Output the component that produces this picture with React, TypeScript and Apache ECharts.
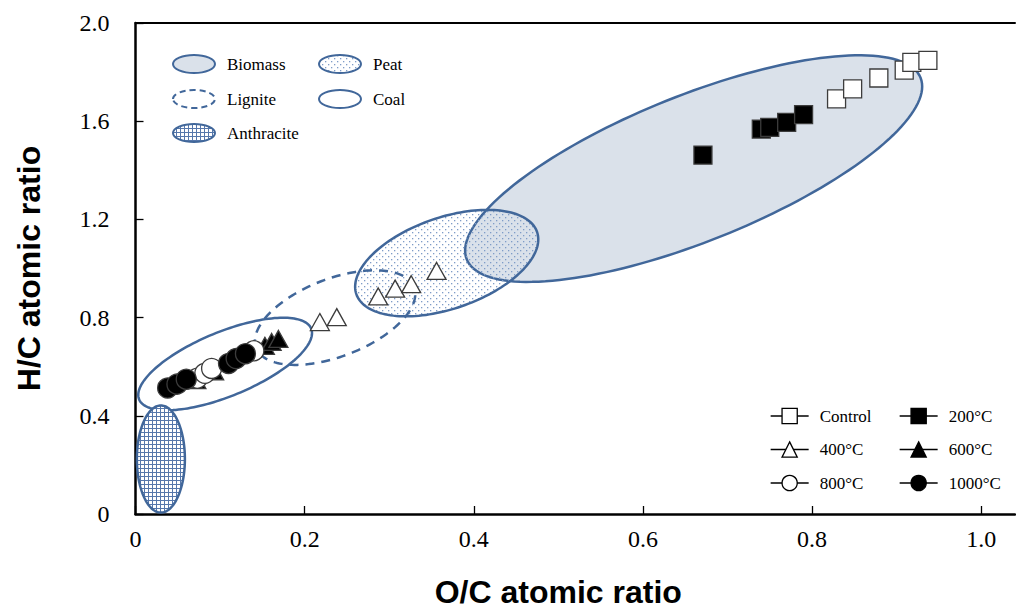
import React, { useEffect, useRef } from 'react';
import * as echarts from 'echarts';

// ---- axis ticks ----
const xTicks = [0, 0.2, 0.4, 0.6, 0.8, 1.0];
const yTicks = [0, 0.4, 0.8, 1.2, 1.6, 2.0];

// ---- series data (O/C, H/C atomic ratios) ----
const seriesNames = ['Control', '200°C', '400°C', '600°C', '800°C', '1000°C'];
const controlOC = [0.829, 0.848, 0.879, 0.909, 0.918, 0.937];
const controlHC = [1.691, 1.732, 1.776, 1.808, 1.84, 1.848];
const t200OC = [0.671, 0.74, 0.75, 0.77, 0.79];
const t200HC = [1.462, 1.568, 1.575, 1.595, 1.627];
const t400OC = [0.218, 0.238, 0.287, 0.307, 0.326, 0.356];
const t400HC = [0.782, 0.802, 0.886, 0.918, 0.936, 0.99];
const t600OC = [0.072, 0.093, 0.153, 0.161, 0.169];
const t600HC = [0.545, 0.581, 0.685, 0.701, 0.713];
const t800OC = [0.073, 0.082, 0.09, 0.14];
const t800HC = [0.553, 0.573, 0.593, 0.665];
const t1000OC = [0.038, 0.049, 0.06, 0.11, 0.119, 0.13];
const t1000HC = [0.513, 0.529, 0.549, 0.613, 0.633, 0.653];

// ---- fuel regions (ellipses, in ratio units) ----
const regionNames = ['Biomass', 'Peat', 'Lignite', 'Coal', 'Anthracite'];
const regionCenterOC = [0.66, 0.368, 0.236, 0.106, 0.03];
const regionCenterHC = [1.407, 1.022, 0.8, 0.611, 0.224];
const regionSemiMajor = [0.289, 0.113, 0.1, 0.11, 0.0633];
const regionSemiMinor = [0.0864, 0.054, 0.046, 0.038, 0.0284];
const regionTiltDeg = [21.8, 19, 21, 22.4, 90];

const legendLeftCol = ['Control', '400°C', '800°C'];
const legendRightCol = ['200°C', '600°C', '1000°C'];

const BLUE = '#41679a';
const SERIF = '"Liberation Serif", "Times New Roman", serif';
const SANS = '"Liberation Sans", Arial, sans-serif';

function makePattern(kind: string) {
  const c = document.createElement('canvas');
  if (kind === 'dots') {
    c.width = 6;
    c.height = 6;
    const g = c.getContext('2d')!;
    g.fillStyle = '#7f9cc8';
    g.fillRect(1, 1, 1.3, 1.3);
    g.fillRect(4, 4, 1.3, 1.3);
  } else {
    c.width = 4;
    c.height = 4;
    const g = c.getContext('2d')!;
    g.fillStyle = '#ffffff';
    g.fillRect(0, 0, 4, 4);
    g.fillStyle = '#5677ab';
    g.fillRect(0, 0, 4, 1);
    g.fillRect(0, 0, 1, 4);
  }
  return { image: c, repeat: 'repeat', imageWidth: c.width, imageHeight: c.height } as any;
}

export default function App() {
  const ref = useRef<HTMLDivElement>(null);
  useEffect(() => {
    if (!ref.current) return;
    const chart = echarts.init(ref.current, null, { renderer: 'svg' });
    const dots = makePattern('dots');
    const grid = makePattern('grid');
    const regionStyles = [
      { fill: '#dae1ea', stroke: BLUE, lineWidth: 2.5 },
      { fill: dots, stroke: BLUE, lineWidth: 2.5 },
      { fill: 'none', stroke: BLUE, lineWidth: 2.5, lineDash: [9, 7] },
      { fill: 'none', stroke: BLUE, lineWidth: 2.5 },
      { fill: grid, stroke: BLUE, lineWidth: 2.5 },
    ];

    const regionSeries = regionNames.map((name, idx) => ({
      type: 'custom',
      name,
      silent: true,
      z: 1,
      clip: false,
      data: [[regionCenterOC[idx], regionCenterHC[idx]]],
      encode: { x: 0, y: 1 },
      renderItem: (params: any, api: any) => {
        const c = api.coord([api.value(0), api.value(1)]);
        const unit = api.size([1, 0])[0];
        const a = regionSemiMajor[idx] * unit;
        const b = regionSemiMinor[idx] * unit;
        const th = (regionTiltDeg[idx] * Math.PI) / 180;
        const pts: number[][] = [];
        const n = 160;
        for (let i = 0; i < n; i++) {
          const t = (i / n) * 2 * Math.PI;
          const ex = a * Math.cos(t);
          const ey = b * Math.sin(t);
          pts.push([
            c[0] + ex * Math.cos(th) - ey * Math.sin(th),
            c[1] - (ex * Math.sin(th) + ey * Math.cos(th)),
          ]);
        }
        return { type: 'polygon', shape: { points: pts }, style: regionStyles[idx] };
      },
    }));

    const pointData = [
      [controlOC, controlHC],
      [t200OC, t200HC],
      [t400OC, t400HC],
      [t600OC, t600HC],
      [t800OC, t800HC],
      [t1000OC, t1000HC],
    ];
    const symbols = ['rect', 'rect', 'triangle', 'triangle', 'circle', 'circle'];
    const sizes: any[] = [18, 18, [19, 17], [19, 17], 20, 20];
    const fills = ['#ffffff', '#000000', '#ffffff', '#000000', '#ffffff', '#000000'];

    const pointSeries = seriesNames.map((name, i) => ({
      type: 'line',
      name,
      z: 3,
      data: pointData[i][0].map((x, k) => [x, pointData[i][1][k]]),
      symbol: symbols[i],
      symbolSize: sizes[i],
      showSymbol: true,
      showAllSymbol: true,
      lineStyle: { opacity: 0, width: 0 },
      itemStyle: { color: fills[i], borderColor: '#3c3c3c', borderWidth: 1.3, opacity: 1 },
      emphasis: { disabled: true },
    }));

    const legendCommon = {
      orient: 'vertical',
      top: 407.5,
      padding: 0,
      itemWidth: 38,
      itemHeight: 19,
      itemGap: 16.5,
      selectedMode: false,
      textStyle: { fontFamily: SERIF, fontSize: 17, color: '#000', padding: [0, 0, 0, 6] },
      lineStyle: { color: '#000', width: 1.3, opacity: 1, type: 'solid' },
      itemStyle: { borderColor: '#000', borderWidth: 1.3 },
    };

    const regionLegendRows = [
      { name: 'Biomass', cx: 194, cy: 64, style: regionStyles[0] },
      { name: 'Lignite', cx: 194, cy: 99, style: regionStyles[2] },
      { name: 'Anthracite', cx: 194, cy: 133, style: regionStyles[4] },
      { name: 'Peat', cx: 340, cy: 64, style: regionStyles[1] },
      { name: 'Coal', cx: 340, cy: 99, style: regionStyles[3] },
    ];
    const graphicEls: any[] = [];
    regionLegendRows.forEach((r) => {
      graphicEls.push({
        type: 'ellipse',
        shape: { cx: r.cx, cy: r.cy, rx: 21, ry: 9 },
        style: { ...r.style, lineWidth: 2, lineDash: r.style.lineDash ? [6, 4] : undefined },
        silent: true,
      });
      graphicEls.push({
        type: 'text',
        x: r.cx + 33,
        y: r.cy,
        style: { text: r.name, font: `17px ${SERIF}`, fill: '#000', verticalAlign: 'middle', align: 'left' },
        silent: true,
      });
    });

    const option: any = {
      animation: false,
      backgroundColor: '#ffffff',
      grid: { left: 135.5, top: 23, right: 1, bottom: 91, containLabel: false },
      xAxis: [
        {
          type: 'value',
          min: 0,
          max: 1.04,
          interval: 0.2,
          name: 'O/C atomic ratio',
          nameLocation: 'middle',
          nameGap: 62,
          nameTextStyle: { fontFamily: SANS, fontWeight: 'bold', fontSize: 32, color: '#000', padding: [0, 34, 0, 0] },
          axisLine: { show: true, onZero: false, lineStyle: { color: '#000', width: 2.5 } },
          axisTick: { show: true, inside: true, length: 8, customValues: xTicks, lineStyle: { color: '#000', width: 1.3 } },
          axisLabel: {
            customValues: xTicks,
            margin: 13,
            fontFamily: SERIF,
            fontSize: 24,
            color: '#000',
            formatter: (v: number) => (v === 0 ? '0' : v.toFixed(1)),
          },
          splitLine: { show: false },
        },
        {
          type: 'value',
          position: 'top',
          min: 0,
          max: 1.04,
          axisLine: { show: true, onZero: false, lineStyle: { color: '#000', width: 2 } },
          axisTick: { show: false },
          axisLabel: { show: false },
          splitLine: { show: false },
        },
      ],
      yAxis: {
        type: 'value',
        min: 0,
        max: 2.0,
        interval: 0.4,
        name: 'H/C atomic ratio',
        nameLocation: 'middle',
        nameGap: 91,
        nameRotate: 90,
        nameTextStyle: { fontFamily: SANS, fontWeight: 'bold', fontSize: 32, color: '#000' },
        axisLine: { show: true, onZero: false, lineStyle: { color: '#000', width: 2.5 } },
        axisTick: { show: true, inside: true, length: 8, customValues: yTicks, lineStyle: { color: '#000', width: 1.3 } },
        axisLabel: {
          customValues: yTicks,
          margin: 26,
          fontFamily: SERIF,
          fontSize: 24,
          color: '#000',
          formatter: (v: number) => (v === 0 ? '0' : v.toFixed(1)),
        },
        splitLine: { show: false },
      },
      legend: [
        { ...legendCommon, left: 770, data: legendLeftCol },
        { ...legendCommon, left: 899, data: legendRightCol },
      ],
      graphic: graphicEls,
      series: [...regionSeries, ...pointSeries],
    };
    chart.setOption(option);
    return () => chart.dispose();
  }, []);
  return (
    <div
      ref={ref}
      style={{ position: 'absolute', left: 0, top: 0, width: 1016, height: 613, background: '#fff' }}
    />
  );
}
